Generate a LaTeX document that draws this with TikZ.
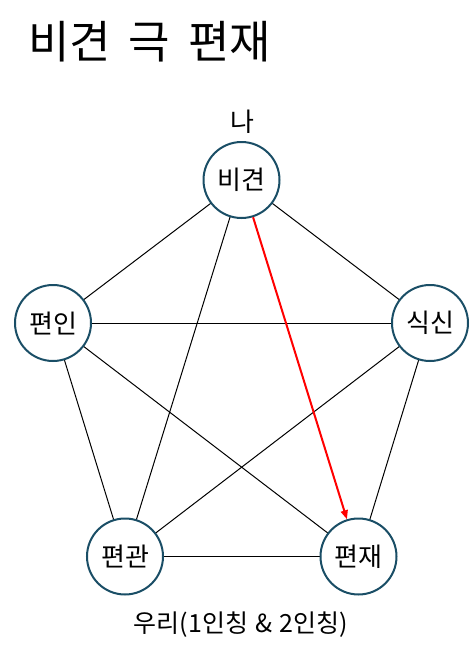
\documentclass[tikz,border=0pt]{standalone}
\usepackage{fontspec}
\setmainfont{Noto Sans CJK KR}
\usetikzlibrary{arrows.meta}
\definecolor{ringcol}{HTML}{1A4E66}
\definecolor{arrred}{HTML}{FF0000}
\begin{document}
\begin{tikzpicture}[x=1pt,y=-1pt,
  ring/.style={circle,draw=ringcol,line width=2pt,fill=white,minimum size=76pt,inner sep=0pt,font=\fontsize{26}{30}\selectfont},
  edge/.style={draw=black,line width=1pt},
  redarrow/.style={draw=arrred,line width=2pt,-{Triangle[length=9pt,width=7pt]}}]
\useasboundingbox (0,0) rectangle (470,654);
\node[anchor=west,inner sep=0pt,font=\fontsize{45}{54}\selectfont] (title) at (28,42) {비견\hspace{0.4em}극\hspace{0.4em}편재};
\node[font=\fontsize{26}{30}\selectfont] (me) at (242,122) {나};
\node[font=\fontsize{25}{30}\selectfont] (we) at (241,625) {우리(1인칭\hspace{0.3em}\&\hspace{0.3em}2인칭)};
\coordinate (cA) at (241.5,180);
\coordinate (cB) at (53,323);
\coordinate (cC) at (430,323);
\coordinate (cD) at (125,556.5);
\coordinate (cE) at (358.5,556.5);
\draw[edge] (cA) -- (cB);
\draw[edge] (cA) -- (cC);
\draw[edge] (cA) -- (cD);
\draw[edge] (cB) -- (cC);
\draw[edge] (cB) -- (cD);
\draw[edge] (cB) -- (cE);
\draw[edge] (cC) -- (cD);
\draw[edge] (cC) -- (cE);
\draw[edge] (cD) -- (cE);
\node[ring] (A) at (cA) {비견};
\node[ring] (B) at (cB) {편인};
\node[ring] (C) at (cC) {식신};
\node[ring] (D) at (cD) {편관};
\node[ring] (E) at (cE) {편재};
\draw[redarrow] (A) -- (E);
\end{tikzpicture}
\end{document}
